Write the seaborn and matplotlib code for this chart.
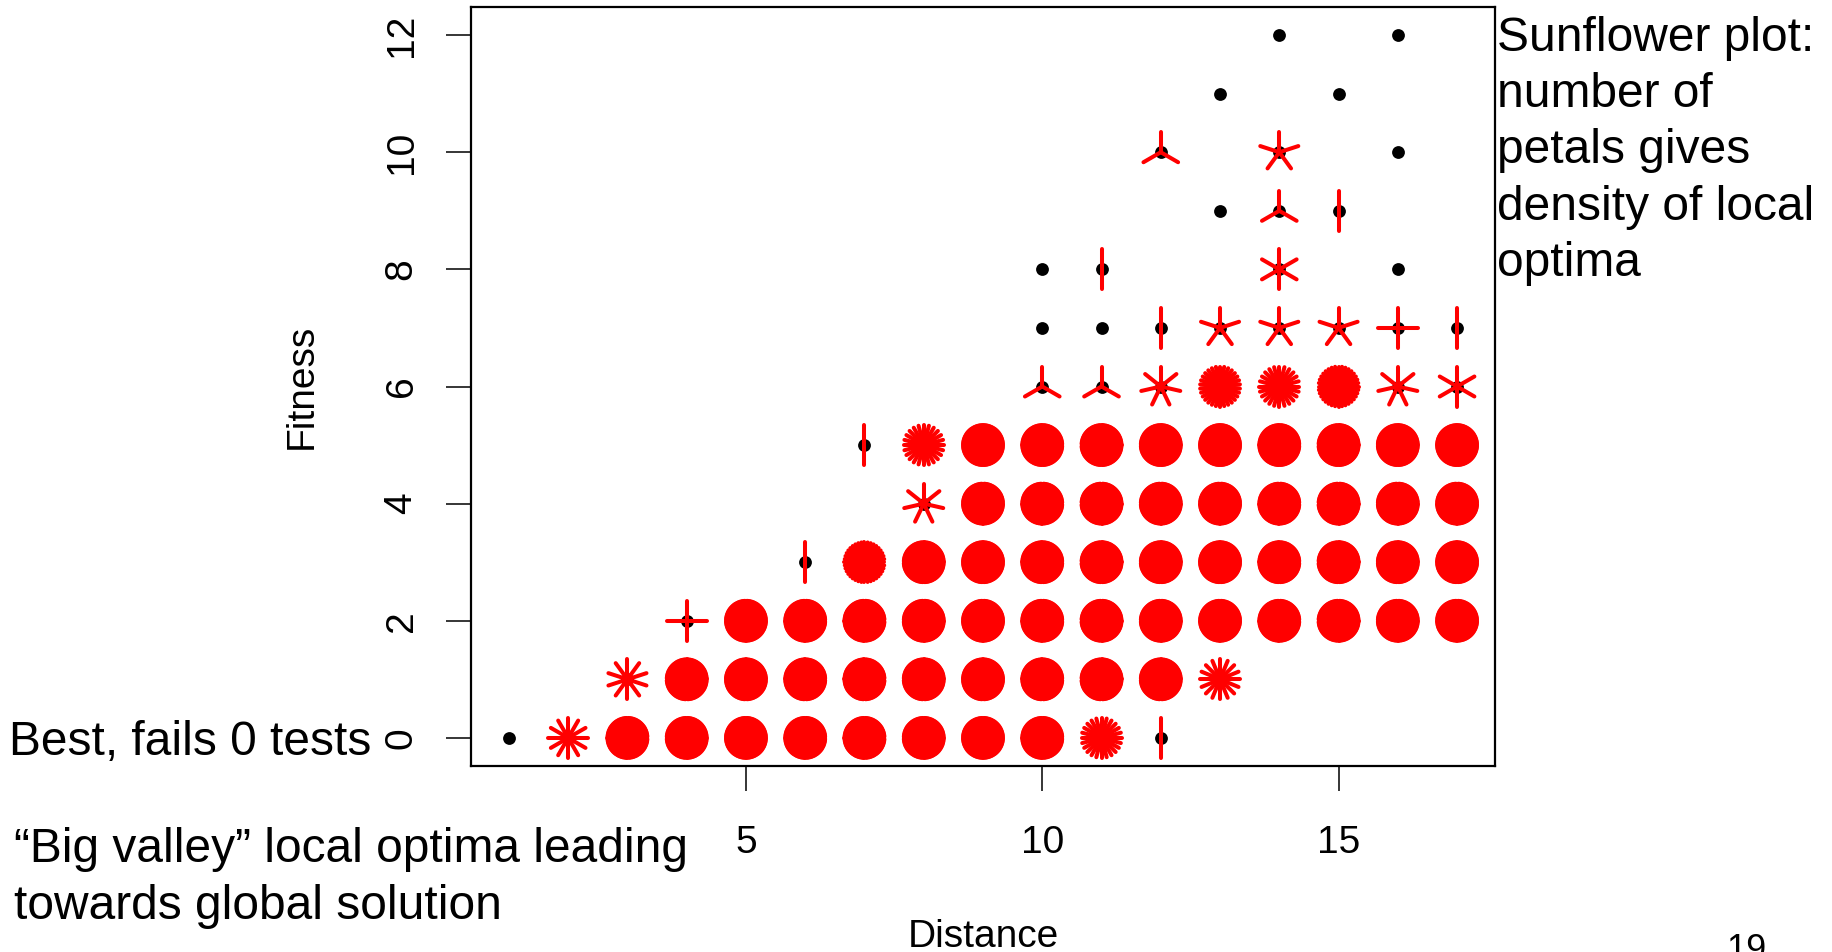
import numpy as np
import matplotlib
matplotlib.use("Agg")
import matplotlib.pyplot as plt
import seaborn as sns
import pandas as pd
from matplotlib.collections import LineCollection

# ---- data: one sunflower per (distance, fitness); petals = number of local optima
distance = [1, 2, 3, 4, 5, 6, 7, 8, 9, 10, 11, 12,
            3, 4, 5, 6, 7, 8, 9, 10, 11, 12, 13,
            4, 5, 6, 7, 8, 9, 10, 11, 12, 13, 14, 15, 16, 17,
            6, 7, 8, 9, 10, 11, 12, 13, 14, 15, 16, 17,
            8, 9, 10, 11, 12, 13, 14, 15, 16, 17,
            7, 8, 9, 10, 11, 12, 13, 14, 15, 16, 17,
            10, 11, 12, 13, 14, 15, 16, 17,
            10, 11, 12, 13, 14, 15, 16, 17,
            10, 11, 14, 16,
            13, 14, 15,
            12, 14, 16,
            13, 15,
            14, 16]
fitness = [0, 0, 0, 0, 0, 0, 0, 0, 0, 0, 0, 0,
           1, 1, 1, 1, 1, 1, 1, 1, 1, 1, 1,
           2, 2, 2, 2, 2, 2, 2, 2, 2, 2, 2, 2, 2, 2,
           3, 3, 3, 3, 3, 3, 3, 3, 3, 3, 3, 3,
           4, 4, 4, 4, 4, 4, 4, 4, 4, 4,
           5, 5, 5, 5, 5, 5, 5, 5, 5, 5, 5,
           6, 6, 6, 6, 6, 6, 6, 6,
           7, 7, 7, 7, 7, 7, 7, 7,
           8, 8, 8, 8,
           9, 9, 9,
           10, 10, 10,
           11, 11,
           12, 12]
petals = [1, 12, 100, 100, 100, 100, 100, 100, 100, 100, 24, 2,
          10, 100, 100, 100, 100, 100, 100, 100, 100, 100, 16,
          4, 100, 100, 100, 100, 100, 100, 100, 100, 100, 100, 100, 100, 100,
          2, 40, 100, 100, 100, 100, 100, 100, 100, 100, 100, 100,
          7, 100, 100, 100, 100, 100, 100, 100, 100, 100,
          2, 24, 100, 100, 100, 100, 100, 100, 100, 100, 100,
          3, 3, 7, 30, 24, 36, 7, 6,
          1, 1, 2, 5, 5, 5, 4, 2,
          1, 2, 6, 1,
          1, 3, 2,
          3, 5, 1,
          1, 1,
          1, 1]

x_ticks = [5, 10, 15]
y_ticks = [0, 2, 4, 6, 8, 10, 12]
x_label = "Distance"
y_label = "Fitness"
note_right = "Sunflower plot:\nnumber of\npetals gives\ndensity of local\noptima"
note_best = "Best, fails 0 tests"
note_valley = "\u201cBig valley\u201d local optima leading\ntowards global solution"
page_number = "19"

# ---- style
sns.set_style("ticks")
plt.rcParams["font.family"] = ["Liberation Sans", "DejaVu Sans"]
plt.rcParams["text.color"] = "black"
plt.rcParams["axes.labelcolor"] = "black"
plt.rcParams["xtick.color"] = "black"
plt.rcParams["ytick.color"] = "black"

W, H = 1833, 952
fig = plt.figure(figsize=(W / 100, H / 100), dpi=100)
fig.patch.set_facecolor("white")
ax_l, ax_r, ax_t, ax_b = 471, 1495, 7, 766
ax = fig.add_axes([ax_l / W, 1 - ax_b / H, (ax_r - ax_l) / W, (ax_b - ax_t) / H])

df = pd.DataFrame({"Distance": distance, "Fitness": fitness, "n": petals})

xmin, xmax = min(distance), max(distance)
ymin, ymax = min(fitness), max(fitness)
xpad = 0.04 * (xmax - xmin)
ypad = 0.04 * (ymax - ymin)
ax.set_xlim(xmin - xpad, xmax + xpad)
ax.set_ylim(ymin - ypad, ymax + ypad)

# centre points
sns.scatterplot(data=df, x="Distance", y="Fitness", color="black", s=85,
                linewidth=0, ax=ax, zorder=2, legend=False)

# petals (R sunflowerplot convention: angle 0 points up)
petal_px = 20.0
xr = petal_px * (ax.get_xlim()[1] - ax.get_xlim()[0]) / (ax_r - ax_l)
yr = petal_px * (ax.get_ylim()[1] - ax.get_ylim()[0]) / (ax_b - ax_t)
segs = []
for xv, yv, n in zip(df["Distance"], df["Fitness"], df["n"]):
    if n > 1:
        ang = 2 * np.pi * np.arange(1, n + 1) / n
        for a in ang:
            segs.append([(xv, yv), (xv + xr * np.sin(a), yv + yr * np.cos(a))])
lc = LineCollection(segs, colors="#ff0000", linewidths=2.9, capstyle="round", zorder=3)
ax.add_collection(lc)

# axes styling
for sp in ax.spines.values():
    sp.set_visible(True)
    sp.set_linewidth(1.6)
    sp.set_color("black")

ax.set_xticks(x_ticks)
ax.set_xticklabels([str(t) for t in x_ticks])
ax.set_yticks(y_ticks)
ax.set_yticklabels([str(t) for t in y_ticks], rotation=90, va="center")
ax.tick_params(axis="both", direction="out", length=18, width=1.1, colors="black",
               labelsize=28, bottom=True, left=True, top=False, right=False)
ax.tick_params(axis="x", pad=24.5)
ax.tick_params(axis="y", pad=19)

ax.set_xlabel(x_label, fontsize=28)
ax.set_ylabel(y_label, fontsize=28)
ax.xaxis.set_label_coords(0.5, (ax_b - 919) / (ax_b - ax_t))
ax.yaxis.set_label_coords((320 - ax_l) / (ax_r - ax_l), 0.5)

# annotations (multi-line texts anchored at the baseline of their last line)
fig.text(9 / W, 1 - 755 / H, note_best, fontsize=34.5, ha="left", va="baseline")
fig.text(14 / W, 1 - 919 / H, note_valley, fontsize=34.5, ha="left", va="baseline",
         linespacing=1.33)
fig.text(1497 / W, 1 - 276 / H, note_right, fontsize=34.5, ha="left", va="baseline",
         linespacing=1.325)
fig.text(1726 / W, 1 - 933 / H, page_number, fontsize=26, ha="left", va="top")

fig.savefig("out.png", dpi=100, facecolor="white")
